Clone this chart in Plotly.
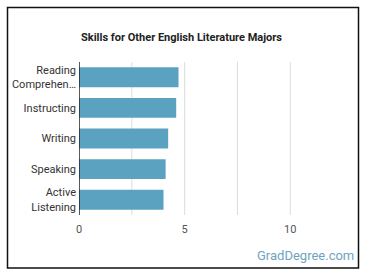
import plotly.graph_objects as go

skills = ["Reading Comprehension", "Instructing", "Writing", "Speaking", "Active Listening"]
tick_labels = ["Reading<br>Comprehen…", "Instructing", "Writing", "Speaking", "Active<br>Listening"]
values = [4.71, 4.60, 4.22, 4.10, 4.00]
x_ticks = [0, 5, 10]

W, H = 370, 278
L, R, T, B = 79, 29, 62, 63
pw, ph = W - L - R, H - T - B

def px_x(p):
    return (p - L) / pw

def px_y(p):
    return (H - B - p) / ph

fig = go.Figure(go.Bar(
    x=values, y=skills, orientation="h",
    marker=dict(color="#5BA2C1", line=dict(width=0)),
    width=0.65,
))

fig.update_layout(
    width=W, height=H,
    margin=dict(l=L, r=R, t=T, b=B, autoexpand=False),
    paper_bgcolor="white", plot_bgcolor="white",
    showlegend=False,
    font=dict(family="Roboto", color="#333333"),
    title=dict(text="<b>Skills for Other English Literature Majors</b>",
               x=181.5 / W, xanchor="center", y=1 - 37 / H, yanchor="middle",
               font=dict(size=11, color="#222222", family="Roboto")),
    xaxis=dict(range=[0, 12.4], tickvals=x_ticks, ticktext=[str(v) for v in x_ticks],
               showgrid=False, zeroline=False, showline=False, automargin=False,
               tickfont=dict(size=11, color="#555555"), ticks="", ticklabelstandoff=6,
               fixedrange=True),
    yaxis=dict(categoryorder="array", categoryarray=skills[::-1],
               tickvals=skills, ticktext=tick_labels, automargin=False,
               tickfont=dict(size=11, color="#333333"), ticks="", ticklabelstandoff=2,
               showgrid=False, zeroline=False, showline=False),
    bargap=0.35,
)

shapes = []
for g in [2.5, 5, 7.5, 10]:
    shapes.append(dict(type="line", xref="x", yref="paper", x0=g, x1=g, y0=0, y1=1,
                       line=dict(color="#dddddd", width=1), layer="below"))
shapes.append(dict(type="line", xref="x", yref="paper", x0=0, x1=0, y0=0, y1=1,
                   line=dict(color="#222222", width=1.5)))
shapes.append(dict(type="rect", xref="paper", yref="paper",
                   x0=px_x(7.5), x1=px_x(358.5), y0=px_y(268), y1=px_y(7.5),
                   line=dict(color="#111111", width=1.5), fillcolor="rgba(0,0,0,0)"))
fig.update_layout(shapes=shapes)

fig.add_annotation(text="GradDegree.com", xref="paper", yref="paper",
                   x=px_x(355.5), y=px_y(255), xanchor="right", yanchor="middle",
                   showarrow=False, font=dict(size=13, color="#6FA3C3", family="Roboto"))

fig.write_html("out.html")
